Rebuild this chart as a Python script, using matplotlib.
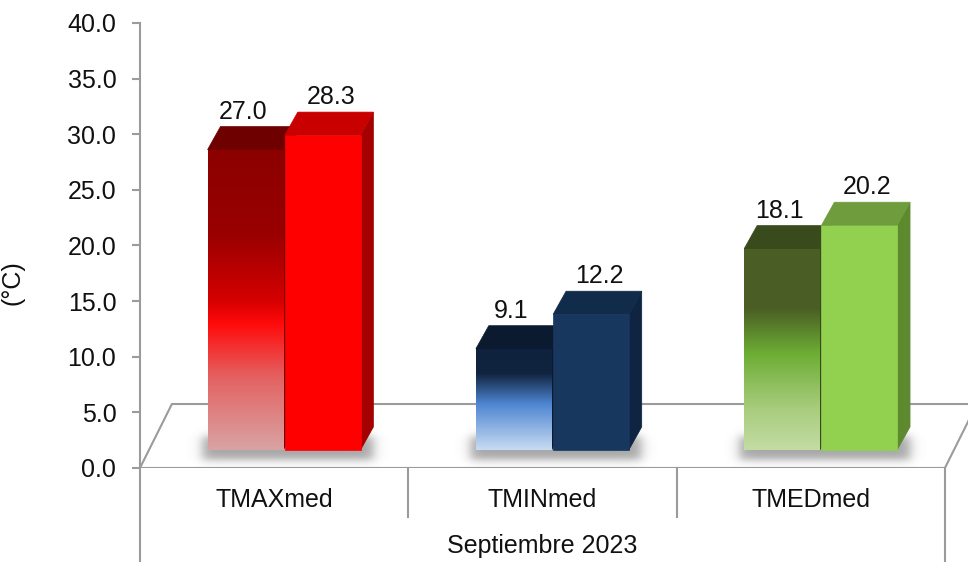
# Temperaturas medias - Septiembre 2023 (barras estilo 3D)
import numpy as np
import matplotlib
matplotlib.use("Agg")
import matplotlib.pyplot as plt
from matplotlib.patches import Polygon

# datos
categorias = ['TMAXmed', 'TMINmed', 'TMEDmed']
serie1 = [27.0, 9.1, 18.1]
serie2 = [28.3, 12.2, 20.2]
periodo = 'Septiembre 2023'
y_ticks = [0, 5, 10, 15, 20, 25, 30, 35, 40]

# colores: degradado de la serie 1 (arriba -> abajo) y caras
degradados = [
    [(0.0, '#8c0000'), (0.28, '#990000'), (0.50, '#d40000'), (0.58, '#ff0a0a'),
     (0.76, '#e46262'), (1.0, '#d9a3a3')],
    [(0.0, '#0f223d'), (0.25, '#10243f'), (0.55, '#4f86d2'), (1.0, '#c8dbf2')],
    [(0.0, '#4a5d25'), (0.30, '#4b5e25'), (0.52, '#6cad34'), (0.80, '#a9cd7e'),
     (1.0, '#c3dca3')],
]
techo1 = ['#6e0000', '#0b1a2f', '#394a1c']
frente2 = ['#ff0000', '#17375e', '#92d050']
techo2 = ['#c80000', '#112b4b', '#6f9d3d']
lado2 = ['#a40000', '#0f2440', '#5e8a2f']

fuente = 'Liberation Sans'
gris = '#9b9b9b'

# geometria (unidades de los ejes)
base = 1.62          # altura de la base de las barras sobre el piso
ancho = 0.282
dx, dy = 0.048, 2.07  # profundidad de la barra
fdx, fdy = 0.119, 5.75  # profundidad del piso

fig = plt.figure(figsize=(9.68, 5.62), dpi=100)
ax = fig.add_axes([0.1446, 0.1673, 0.8554, 0.7918])


def degradado(stops, n=256):
    pos = [s[0] for s in stops]
    cols = np.array([matplotlib.colors.to_rgb(s[1]) for s in stops])
    t = np.linspace(0, 1, n)
    img = np.zeros((n, 1, 3))
    for k in range(3):
        img[:, 0, k] = np.interp(t, pos, cols[:, k])
    return img


def sombra(x0, x1, y0, y1, bx, by, z):
    xs = np.linspace(x0 - 3 * bx, x1 + 3 * bx, 200)
    ys = np.linspace(y0 - 3 * by, y1 + 3 * by, 100)
    px = 0.5 * (np.tanh((xs - x0) / bx) - np.tanh((xs - x1) / bx))
    py = 0.5 * (np.tanh((ys - y0) / by) - np.tanh((ys - y1) / by))
    a = np.outer(py[::-1], px) * 0.6
    img = np.zeros((len(ys), len(xs), 4))
    img[..., :3] = 0.42
    img[..., 3] = a
    ax.imshow(img, extent=[xs[0], xs[-1], ys[0], ys[-1]], aspect='auto',
              origin='upper', zorder=z, interpolation='bilinear')


def caja(x0, v, frente, techo, lado, z):
    y0, y1 = base, base + v
    x1 = x0 + ancho
    ax.add_patch(Polygon([(x1, y0), (x1, y1), (x1 + dx, y1 + dy), (x1 + dx, y0 + dy)],
                         closed=True, facecolor=lado, edgecolor=lado, lw=0.5, zorder=z))
    if isinstance(frente, str):
        ax.add_patch(Polygon([(x0, y0), (x1, y0), (x1, y1), (x0, y1)], closed=True,
                             facecolor=frente, edgecolor=frente, lw=0.5, zorder=z + 0.1))
    else:
        ax.imshow(degradado(frente), extent=[x0, x1, y0, y1], aspect='auto',
                  origin='upper', zorder=z + 0.1, interpolation='bilinear')
    ax.add_patch(Polygon([(x0, y1), (x1, y1), (x1 + dx, y1 + dy), (x0 + dx, y1 + dy)],
                         closed=True, facecolor=techo, edgecolor=techo, lw=0.5, zorder=z + 0.2))


# piso
piso = Polygon([(-0.5, 0), (2.5, 0), (2.5 + fdx, fdy), (-0.5 + fdx, fdy)], closed=True,
               facecolor='white', edgecolor=gris, lw=1.5, zorder=1)
ax.add_patch(piso)

for i in range(len(categorias)):
    xa = i - 0.248
    xb = i + 0.040
    sombra(xa - 0.02, xb + ancho + dx, base - 0.9, base + 1.2, 0.025, 0.45, 2)
    caja(xa, serie1[i], degradados[i], techo1[i], techo1[i], 3)
    caja(xb, serie2[i], frente2[i], techo2[i], lado2[i], 4)
    ax.text(xa + ancho / 2 - 0.01, base + serie1[i] + dy + 0.7, f'{serie1[i]:.1f}',
            ha='center', va='baseline', fontsize=18, family=fuente, color='#111111', zorder=6)
    ax.text(xb + ancho / 2 + 0.03, base + serie2[i] + dy + 0.7, f'{serie2[i]:.1f}',
            ha='center', va='baseline', fontsize=18, family=fuente, color='#111111', zorder=6)

# tabla de categorias bajo el eje
for xl in [-0.5, 2.5]:
    ax.plot([xl, xl], [0, -9], color=gris, lw=1.5, clip_on=False, zorder=1)
for xl in [0.5, 1.5]:
    ax.plot([xl, xl], [0, -4.4], color=gris, lw=1.5, clip_on=False, zorder=1)
for i, c in enumerate(categorias):
    ax.text(i, -2.9, c, ha='center', va='center', fontsize=18, family=fuente, color='#111111')
ax.text(1, -7.05, periodo, ha='center', va='center', fontsize=18, family=fuente, color='#111111')

# ejes
ax.set_xlim(-0.5, 2.586)
ax.set_ylim(0, 40)
ax.set_yticks(y_ticks)
ax.set_yticklabels([f'{t:.1f}' for t in y_ticks], family=fuente, fontsize=18, color='#111111')
ax.set_xticks([])
ax.tick_params(axis='y', length=6, width=1.5, color=gris, pad=11)
for s in ['top', 'right', 'bottom']:
    ax.spines[s].set_visible(False)
ax.spines['left'].set_color(gris)
ax.spines['left'].set_linewidth(1.5)
ax.set_ylabel('(°C)', family=fuente, fontsize=18, color='#111111')
ax.yaxis.set_label_coords(-0.139, 0.416)
ax.patch.set_alpha(0)

plt.savefig('out.png', dpi=100)
